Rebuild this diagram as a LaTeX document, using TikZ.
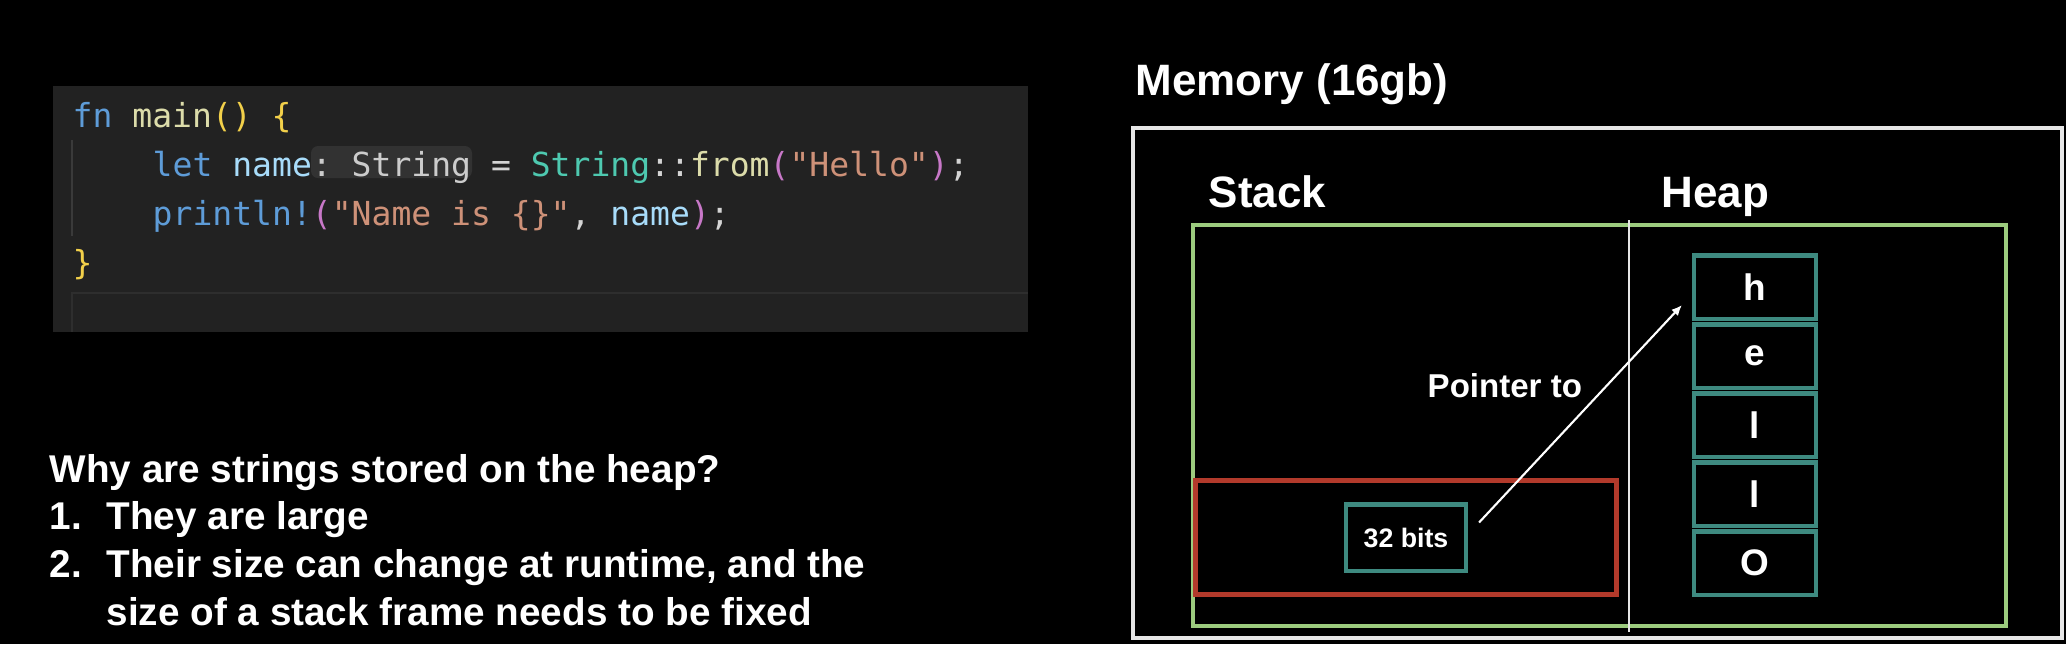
\documentclass[tikz,border=0pt]{standalone}
\usepackage{fontspec}
\setmainfont{Liberation Sans}
\newfontfamily\codefont{DejaVu Sans Mono}
\usetikzlibrary{positioning}
\usetikzlibrary{arrows.meta}
\usetikzlibrary{calc}

\definecolor{codebg}{HTML}{222222}
\definecolor{lineborder}{HTML}{2E2E2E}
\definecolor{guide}{HTML}{3A3A3A}
\definecolor{hintbg}{HTML}{323232}
\definecolor{kw}{HTML}{5E9CD8}
\definecolor{fnc}{HTML}{DCDCAA}
\definecolor{var}{HTML}{A8DCFA}
\definecolor{ty}{HTML}{4EC9B0}
\definecolor{str}{HTML}{CE9178}
\definecolor{brace}{HTML}{F2D04A}
\definecolor{paren}{HTML}{C878C8}
\definecolor{punct}{HTML}{D4D4D4}
\definecolor{hint}{HTML}{CCCCCC}
\definecolor{stackgreen}{HTML}{9CCB7E}
\definecolor{framered}{HTML}{B23A2B}
\definecolor{cellteal}{HTML}{3E8A80}
\definecolor{memwhite}{HTML}{E6E6E6}

\begin{document}
\begin{tikzpicture}[
    x=0.01cm, y=-0.01cm,
    code/.style={anchor=base west, inner sep=0, text=punct, font=\codefont\frenchspacing\fontsize{9.4}{11}\selectfont},
    note/.style={anchor=base west, inner sep=0, text=white, font=\bfseries\fontsize{11}{13}\selectfont},
    title/.style={anchor=base west, inner sep=0, text=white, font=\bfseries\fontsize{12.5}{15}\selectfont},
    frame/.style={rectangle, draw=framered, line width=1.42pt, minimum width=4.21cm, minimum height=1.14cm},
    ptrbox/.style={rectangle, draw=cellteal, line width=1.28pt, minimum width=1.195cm, minimum height=0.665cm, inner sep=0, text=white, font=\bfseries\fontsize{7.6}{9}\selectfont},
    cell/.style={rectangle, draw=cellteal, line width=1.28pt, minimum width=1.215cm, minimum height=0.635cm, inner sep=0, text=white, font=\bfseries\fontsize{10.5}{12}\selectfont},
]
    \fill[black] (0,0) rectangle (2066,644);
    \useasboundingbox (0,0) rectangle (2066,644);

    % code panel
    \fill[codebg] (53,86) rectangle (1028,332);
    \draw[lineborder, line width=0.6pt] (1028,293) -- (72,293) -- (72,332);
    \draw[guide, line width=0.6pt] (72,140) -- (72,236);
    \fill[hintbg, rounded corners=2pt] (311,146) rectangle (472,178);

    \node[code] (L1) at (72,127) {\textcolor{kw}{fn} \textcolor{fnc}{main}\textcolor{brace}{()} \textcolor{brace}{\{}};
    \node[code] (L2) at (152,176) {\textcolor{kw}{let} \textcolor{var}{name}\textcolor{hint}{: String} = \textcolor{ty}{String}::\textcolor{fnc}{from}\textcolor{paren}{(}\textcolor{str}{"Hello"}\textcolor{paren}{)};};
    \node[code] (L3) at (152,225) {\textcolor{kw}{println!}\textcolor{paren}{(}\textcolor{str}{"Name is \{\}"}, \textcolor{var}{name}\textcolor{paren}{)};};
    \node[code] (L4) at (72,274) {\textcolor{brace}{\}}};

    % question
    \node[note] (Q) at (49,482) {Why are strings stored on the heap?};
    \node[note] (N1) at (49,529) {1.};
    \node[note] (R1) at (106,529) {They are large};
    \node[note] (N2) at (49,577) {2.};
    \node[note] (R2) at (106,577) {Their size can change at runtime, and the};
    \node[note] (R3) at (106,625) {size of a stack frame needs to be fixed};

    % memory
    \draw[memwhite, line width=1.3pt] (1133,128) rectangle (2062,638);
    \node[title] (MEM) at (1135,95) {Memory (16gb)};
    \node[title] (STK) at (1208,207) {Stack};
    \node[title] (HP) at (1661,207) {Heap};
    \draw[stackgreen, line width=1.2pt] (1193,225) rectangle (2006,626);
    \draw[memwhite, line width=0.55pt] (1629,220) -- (1629,632);

    \node[frame] (F) at (1406,537.5) {};
    \node[ptrbox] (P) at (F.center) {32 bits};

    \node[cell] (C1) at (1755,287) {h};
    \node[cell] (C2) [below=0.01cm of C1] {e};
    \node[cell] (C3) [below=0.01cm of C2] {l};
    \node[cell] (C4) [below=0.01cm of C3] {l};
    \node[cell] (C5) [below=0.01cm of C4] {O};

    \node[anchor=base west, inner sep=0, text=white, font=\bfseries\fontsize{9.4}{11}\selectfont] (PL) at (1427,397) {Pointer to};
    \draw[-{Latex[length=3pt,width=2.6pt]}, white, line width=0.6pt] ($(P.east)+(11,-15)$) -- ($(C1.west)+(-10,18)$);
\end{tikzpicture}
\end{document}
